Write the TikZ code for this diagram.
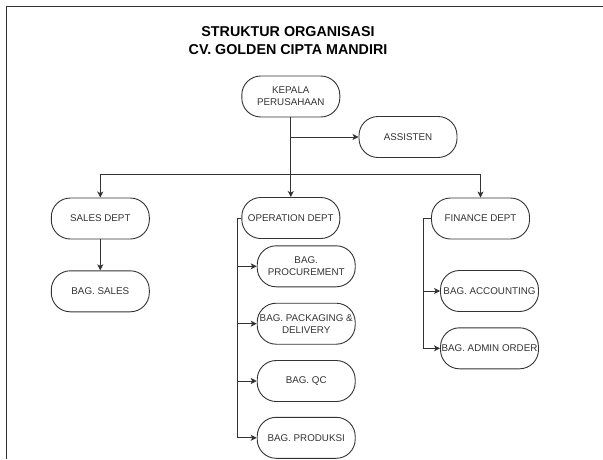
\documentclass[tikz,border=0pt]{standalone}
\usepackage{fontspec}
\setmainfont{Liberation Sans}
\usetikzlibrary{arrows.meta}
\definecolor{ln}{HTML}{333333}
\begin{document}
\begin{tikzpicture}[x=1pt,y=-1pt,
    box/.style={draw=ln,line width=0.9pt,rounded corners=19pt,minimum width=98pt,minimum height=41pt,inner sep=1pt,align=center,text=ln,font=\fontsize{9.8}{12}\selectfont},
    arr/.style={draw=ln,line width=0.9pt,-{Stealth[length=6pt,width=6pt,inset=1.5pt]}}]
        \useasboundingbox (0,0) rectangle (603,459);
        \draw[ln,line width=1pt] (6.5,459) -- (6.5,6.7) -- (603,6.7);
        \node[align=center,font=\fontsize{14.3}{17.6}\selectfont\bfseries] (T) at (288,40.5) {STRUKTUR ORGANISASI\\CV. GOLDEN CIPTA MANDIRI};
        \node[box] (KP) at (290.8,96.5) {KEPALA\\PERUSAHAAN};
        \node[box] (AS) at (408,137) {ASSISTEN};
        \node[box] (SD) at (100.3,218.5) {SALES DEPT};
        \node[box] (OD) at (290.8,218) {OPERATION DEPT};
        \node[box] (FD) at (480.5,218.5) {FINANCE DEPT};
        \node[box] (BS) at (100.3,291.3) {BAG. SALES};
        \node[box] (BP) at (306.2,266.3) {BAG.\\PROCUREMENT};
        \node[box] (BPD) at (306.2,323.7) {BAG. PACKAGING \&\\DELIVERY};
        \node[box] (BQ) at (306.2,381) {BAG. QC};
        \node[box] (BPR) at (306.2,437.8) {BAG. PRODUKSI};
        \node[box] (BA) at (489.5,291) {BAG. ACCOUNTING};
        \node[box] (BAO) at (489.5,348.3) {BAG. ADMIN ORDER};
        \coordinate (BR) at (290.8,174);
        \draw[arr] (KP) -- (OD);
        \draw[arr] (KP) |- (AS);
        \draw[arr] (BR) -| (SD);
        \draw[arr] (BR) -| (FD);
        \draw[arr] (SD) -- (BS);
        \foreach \n in {BP,BPD,BQ,BPR}
            \draw[arr] (OD.west) -- ++(-4.4,0) |- (\n);
        \foreach \n in {BA,BAO}
            \draw[arr] (FD.west) -- ++(-7.7,0) |- (\n);
    \end{tikzpicture}
\end{document}
